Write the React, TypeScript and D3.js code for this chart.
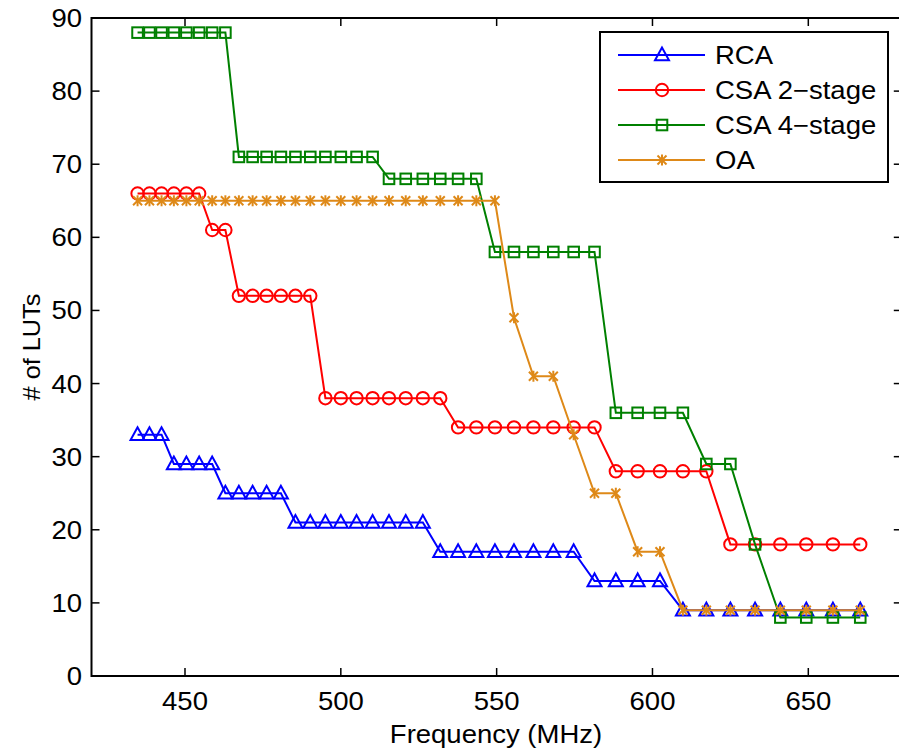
import React from "react";
import * as d3 from "d3";

const freqs = [
  434.78, 438.6, 442.48, 446.43, 450.45, 454.55, 458.72, 462.96, 467.29, 471.7,
  476.19, 480.77, 485.44, 490.2, 495.05, 500.0, 505.05, 510.2, 515.46, 520.83,
  526.32, 531.91, 537.63, 543.48, 549.45, 555.56, 561.8, 568.18, 574.71, 581.4,
  588.24, 595.24, 602.41, 609.76, 617.28, 625.0, 632.91, 641.03, 649.35, 657.89,
  666.67,
];

const rca = [
  33, 33, 33, 29, 29, 29, 29, 25, 25, 25, 25, 25, 21, 21, 21, 21, 21, 21, 21, 21,
  21, 17, 17, 17, 17, 17, 17, 17, 17, 13, 13, 13, 13, 9, 9, 9, 9, 9, 9, 9, 9,
];
const csa2 = [
  66, 66, 66, 66, 66, 66, 61, 61, 52, 52, 52, 52, 52, 52, 38, 38, 38, 38, 38, 38,
  38, 38, 34, 34, 34, 34, 34, 34, 34, 34, 28, 28, 28, 28, 28, 18, 18, 18, 18, 18,
  18,
];
const csa4 = [
  88, 88, 88, 88, 88, 88, 88, 88, 71, 71, 71, 71, 71, 71, 71, 71, 71, 71, 68, 68,
  68, 68, 68, 68, 58, 58, 58, 58, 58, 58, 36, 36, 36, 36, 29, 29, 18, 8, 8, 8, 8,
];
const oa = [
  65, 65, 65, 65, 65, 65, 65, 65, 65, 65, 65, 65, 65, 65, 65, 65, 65, 65, 65, 65,
  65, 65, 65, 65, 65, 49, 41, 41, 33, 25, 25, 17, 17, 9, 9, 9, 9, 9, 9, 9, 9,
];

const seriesNames = ["RCA", "CSA 2\u2212stage", "CSA 4\u2212stage", "OA"];
const seriesColors = ["#0000ff", "#ff0000", "#008000", "#de8918"];
const seriesMarkers = ["triangle", "circle", "square", "star"];
const seriesValues = [rca, csa2, csa4, oa];

const xTicks = [450, 500, 550, 600, 650];
const yTicks = [0, 10, 20, 30, 40, 50, 60, 70, 80, 90];
const xDomain = [420, 680];
const yDomain = [0, 90];
const xLabel = "Frequency (MHz)";
const yLabel = "# of LUTs";

const FONT = "'Liberation Sans', Arial, Helvetica, sans-serif";

function Marker({ type, x, y, color }: { type: string; x: number; y: number; color: string }) {
  const sw = 2;
  if (type === "circle") {
    return <circle cx={x} cy={y} r={6.2} fill="none" stroke={color} strokeWidth={sw} />;
  }
  if (type === "square") {
    return <rect x={x - 5.3} y={y - 5.3} width={10.6} height={10.6} fill="none" stroke={color} strokeWidth={sw} />;
  }
  if (type === "triangle") {
    const p = `${x},${y - 7.5} ${x - 7},${y + 5.3} ${x + 7},${y + 5.3}`;
    return <polygon points={p} fill="none" stroke={color} strokeWidth={sw} strokeLinejoin="miter" />;
  }
  const s = 4.5;
  return (
    <g stroke={color} strokeWidth={sw}>
      <line x1={x - s} y1={y - s} x2={x + s} y2={y + s} />
      <line x1={x - s} y1={y + s} x2={x + s} y2={y - s} />
      <line x1={x} y1={y - s - 1} x2={x} y2={y + s + 1} />
    </g>
  );
}

function SText({ x, y, anchor, children, size = 25, rotate = 0 }: any) {
  return (
    <text
      transform={`translate(${x},${y}) rotate(${rotate}) scale(1.1,1)`}
      textAnchor={anchor}
      fontFamily={FONT}
      fontSize={size}
      fill="#000"
    >
      {children}
    </text>
  );
}

export default function App() {
  const W = 899;
  const H = 751;
  const x = d3.scaleLinear().domain(xDomain).range([91.5, 901.8]);
  const y = d3.scaleLinear().domain(yDomain).range([676, 18]);
  const line = d3
    .line<number>()
    .x((_, i) => x(freqs[i]))
    .y((d) => y(d));

  const L = x.range()[0];
  const R = x.range()[1];
  const B = y.range()[0];
  const T = y.range()[1];
  const tk = 8;

  const legX0 = 600, legY0 = 32, legX1 = 888, legY1 = 182;
  const legRows = [55, 90, 125, 160];

  return (
    <svg
      width={W}
      height={H}
      style={{ position: "absolute", left: 0, top: 0, background: "#fff" }}
    >
      <rect x={0} y={0} width={W} height={H} fill="#fff" />
      {seriesValues.map((vals, si) => (
        <g key={si}>
          <path d={line(vals) || ""} fill="none" stroke={seriesColors[si]} strokeWidth={2} />
          {vals.map((v, i) => (
            <Marker key={i} type={seriesMarkers[si]} x={x(freqs[i])} y={y(v)} color={seriesColors[si]} />
          ))}
        </g>
      ))}
      <rect x={L} y={T} width={R - L} height={B - T} fill="none" stroke="#000" strokeWidth={2} />
      {xTicks.map((t) => (
        <g key={t}>
          <line x1={x(t)} x2={x(t)} y1={B} y2={B - tk} stroke="#000" strokeWidth={1.5} />
          <line x1={x(t)} x2={x(t)} y1={T} y2={T + tk} stroke="#000" strokeWidth={1.5} />
          <SText x={x(t)} y={710} anchor="middle">{t}</SText>
        </g>
      ))}
      {yTicks.map((t) => (
        <g key={t}>
          <line x1={L} x2={L + tk} y1={y(t)} y2={y(t)} stroke="#000" strokeWidth={1.5} />
          <line x1={R} x2={R - tk} y1={y(t)} y2={y(t)} stroke="#000" strokeWidth={1.5} />
          <SText x={82} y={y(t) + 9} anchor="end">{t}</SText>
        </g>
      ))}
      <SText x={496} y={743} anchor="middle">{xLabel}</SText>
      <SText x={40} y={347} anchor="middle" size={23} rotate={-90}>{yLabel}</SText>
      <rect x={legX0} y={legY0} width={legX1 - legX0} height={legY1 - legY0} fill="#fff" stroke="#000" strokeWidth={2} />
      {seriesNames.map((n, si) => (
        <g key={n}>
          <line x1={618} x2={705} y1={legRows[si]} y2={legRows[si]} stroke={seriesColors[si]} strokeWidth={2} />
          <Marker type={seriesMarkers[si]} x={662} y={legRows[si]} color={seriesColors[si]} />
          <SText x={715} y={legRows[si] + 9} anchor="start">{n}</SText>
        </g>
      ))}
    </svg>
  );
}
